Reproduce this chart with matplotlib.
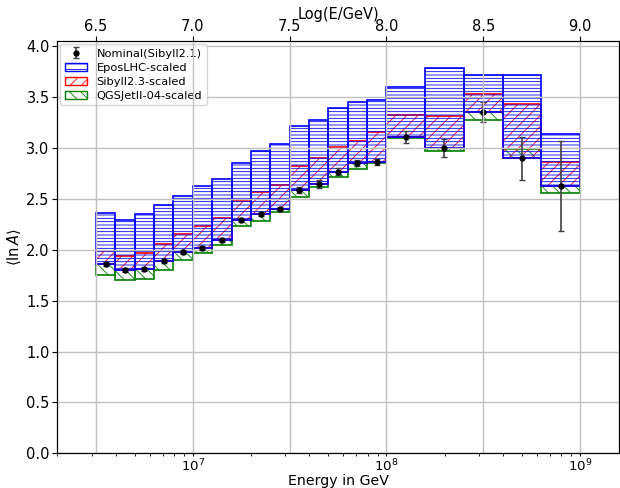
#importing the necessary libraries
import numpy as np
import matplotlib
matplotlib.use('Agg')
import matplotlib.pyplot as plt
from matplotlib.patches import Patch

# bin edges in log10(E/GeV)
log_edges = [6.5, 6.6, 6.7, 6.8, 6.9, 7.0, 7.1, 7.2, 7.3, 7.4, 7.5, 7.6, 7.7, 7.8, 7.9, 8.0,
             8.2, 8.4, 8.6, 8.8, 9.0]
log_centers = [6.55, 6.65, 6.75, 6.85, 6.95, 7.05, 7.15, 7.25, 7.35, 7.45, 7.55, 7.65, 7.75,
               7.85, 7.95, 8.1, 8.3, 8.5, 8.7, 8.9]
# nominal <lnA> (Sibyll2.1) with errors
nominal = [1.857, 1.80, 1.813, 1.89, 1.98, 2.02, 2.10, 2.295, 2.35, 2.405, 2.59, 2.65, 2.77,
           2.855, 2.865, 3.11, 3.00, 3.355, 2.90, 2.63]
nominal_err = [0.02, 0.02, 0.02, 0.02, 0.02, 0.02, 0.02, 0.02, 0.02, 0.02, 0.03, 0.04, 0.03,
               0.03, 0.03, 0.06, 0.09, 0.10, 0.21, 0.44]
# scaled values of the other hadronic models
epos = [2.36, 2.29, 2.35, 2.44, 2.53, 2.625, 2.70, 2.855, 2.97, 3.04, 3.22, 3.28, 3.39, 3.45,
        3.47, 3.60, 3.785, 3.72, 3.715, 3.135]
sibyll23 = [1.99, 1.94, 1.965, 2.06, 2.16, 2.23, 2.31, 2.48, 2.57, 2.64, 2.82, 2.90, 3.01,
            3.07, 3.16, 3.33, 3.32, 3.53, 3.43, 2.86]
qgsjet = [1.75, 1.70, 1.71, 1.80, 1.90, 1.97, 2.05, 2.23, 2.285, 2.37, 2.52, 2.62, 2.72, 2.79,
          2.855, 3.10, 2.97, 3.28, 2.99, 2.56]

plt.rcParams['hatch.linewidth'] = 0.6

edges = 10**np.array(log_edges)
left = edges[:-1]
width = edges[1:] - edges[:-1]
centers = 10**np.array(log_centers)
nom = np.array(nominal)

fig = plt.figure(figsize=(6.2, 4.88), dpi=100)
ax = fig.add_axes([0.0924, 0.0711, 0.9055, 0.8443])

# boxes from the nominal value up/down to each model
ax.bar(left, np.array(qgsjet) - nom, width=width, bottom=nom, align='edge',
       facecolor='none', edgecolor='green', hatch='\\\\\\', linewidth=1.2)
ax.bar(left, np.array(sibyll23) - nom, width=width, bottom=nom, align='edge',
       facecolor='none', edgecolor='red', hatch='///', linewidth=1.2)
ax.bar(left, np.array(epos) - nom, width=width, bottom=nom, align='edge',
       facecolor='none', edgecolor='blue', hatch='-----', linewidth=1.2)

eb = ax.errorbar(centers, nominal, yerr=nominal_err, fmt='o', color='k', markersize=3.5,
                 ecolor='0.25', elinewidth=1.2, capsize=2.5, zorder=5)

ax.set_xscale('log')
ax.set_xlim(10**6.3, 10**9.2)
ax.set_ylim(0, 4.05)
ax.set_yticks(np.arange(0, 4.01, 0.5))
ax.grid(axis='y', color='#c0c0c0', linewidth=1.0)
ax.set_xlabel('Energy in GeV', fontsize=10.2, va='bottom')
ax.xaxis.set_label_coords(0.5, -0.083)
ax.set_ylabel(r'$\langle \ln A \rangle$', fontsize=10.5, labelpad=2)
ax.tick_params(axis='y', labelsize=10.5, pad=2)
ax.tick_params(axis='x', labelsize=9.6, pad=1, length=2.5)
ax.tick_params(axis='x', which='minor', length=2)

# legend
handles = [eb,
           Patch(facecolor='none', edgecolor='blue', hatch='---'),
           Patch(facecolor='none', edgecolor='red', hatch='///'),
           Patch(facecolor='none', edgecolor='green', hatch='\\\\\\')]
labels = ['Nominal(Sibyll2.1)', 'EposLHC-scaled', 'Sibyll2.3-scaled', 'QGSJetII-04-scaled']
ax.legend(handles, labels, loc='upper left', fontsize=8.2, borderaxespad=0.25,
          handlelength=2.0, labelspacing=0.35)

# top axis in Log(E/GeV)
ax2 = ax.twiny()
ax2.set_xlim(6.3, 9.2)
ax2.set_xticks([6.5, 7.0, 7.5, 8.0, 8.5, 9.0])
ax2.grid(axis='x', color='#c0c0c0', linewidth=1.0)
ax2.set_xlabel('Log(E/GeV)', fontsize=10.5, labelpad=0)
ax2.tick_params(labelsize=10.5, pad=2)

fig.savefig('out.png', dpi=100)
